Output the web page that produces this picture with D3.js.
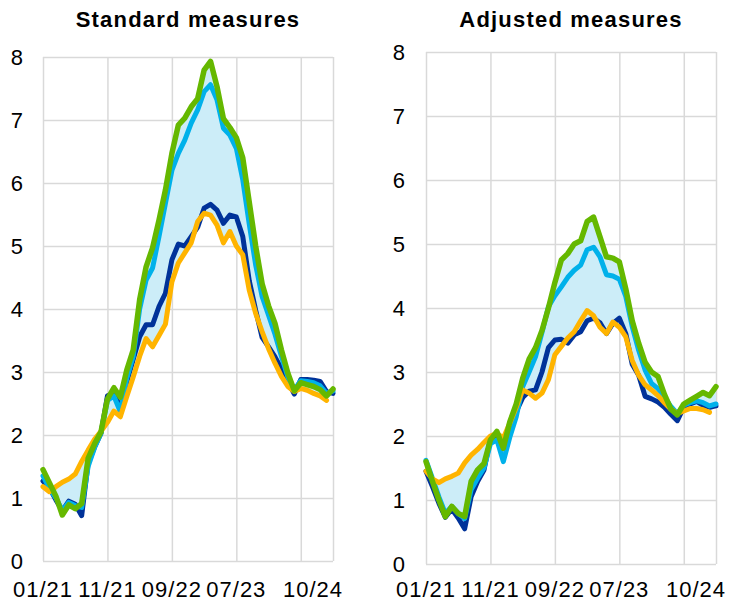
<!DOCTYPE html>
<html>
<head>
<meta charset="utf-8">
<script src="https://cdn.jsdelivr.net/npm/d3@7"></script>
<style>
  body { margin: 0; background: #fff; }
  text { font-family: "Liberation Sans", Arial, sans-serif; fill: #000; }
</style>
</head>
<body>
<svg id="chart" width="729" height="602"></svg>
<script>
// monthly observations, 01/21 .. 10/24 (index 0..45)
const yTicks = [0, 1, 2, 3, 4, 5, 6, 7, 8];
const gridIndex = [0, 10, 20, 30, 40, 45];
const tickIndex = [0, 10, 20, 30, 45];
const tickLabels = ["01/21", "11/21", "09/22", "07/23", "10/24"];

const stdDarkBlue = [1.27, 1.16, 0.97, 0.8, 0.95, 0.9, 0.72, 1.55, 1.81, 2.03, 2.62, 2.66, 2.42, 2.85, 3.2, 3.56, 3.75, 3.75, 4.04, 4.25, 4.78, 5.03, 5.0, 5.15, 5.3, 5.6, 5.66, 5.57, 5.36, 5.49, 5.46, 5.15, 4.45, 3.98, 3.55, 3.4, 3.24, 3.05, 2.85, 2.65, 2.88, 2.88, 2.87, 2.85, 2.69, 2.66];
const stdLightBlue = [1.35, 1.15, 1.0, 0.8, 0.93, 0.88, 0.85, 1.5, 1.8, 2.03, 2.55, 2.62, 2.37, 2.9, 3.25, 4.0, 4.46, 4.65, 5.15, 5.68, 6.2, 6.47, 6.68, 6.95, 7.16, 7.45, 7.56, 7.32, 6.87, 6.76, 6.55, 6.05, 5.35, 4.7, 4.2, 3.9, 3.6, 3.25, 2.92, 2.72, 2.86, 2.85, 2.83, 2.78, 2.66, 2.7];
const stdOrange = [1.18, 1.1, 1.18, 1.25, 1.3, 1.38, 1.58, 1.76, 1.93, 2.06, 2.2, 2.38, 2.29, 2.61, 2.92, 3.25, 3.53, 3.4, 3.58, 3.76, 4.43, 4.73, 4.89, 5.05, 5.39, 5.52, 5.49, 5.33, 5.05, 5.23, 5.0, 4.86, 4.3, 3.93, 3.64, 3.37, 3.14, 2.93, 2.77, 2.69, 2.74, 2.71, 2.66, 2.62, 2.55, null];
const stdGreen = [1.45, 1.24, 1.03, 0.73, 0.89, 0.83, 0.91, 1.63, 1.86, 2.05, 2.57, 2.75, 2.6, 3.03, 3.35, 4.15, 4.67, 4.97, 5.41, 5.89, 6.47, 6.92, 7.03, 7.21, 7.34, 7.79, 7.93, 7.53, 7.02, 6.88, 6.72, 6.4, 5.7, 5.0, 4.4, 4.05, 3.77, 3.35, 2.98, 2.7, 2.83, 2.8, 2.77, 2.72, 2.62, 2.73];

const adjDarkBlue = [1.45, 1.21, 0.95, 0.73, 0.86, 0.72, 0.55, 1.05, 1.29, 1.47, 1.96, 2.02, 1.8, 2.12, 2.38, 2.6, 2.7, 2.72, 3.0, 3.38, 3.5, 3.51, 3.45, 3.58, 3.63, 3.8, 3.84, 3.77, 3.6, 3.76, 3.84, 3.6, 3.12, 2.95, 2.62, 2.58, 2.53, 2.45, 2.34, 2.24, 2.45, 2.5, 2.54, 2.48, 2.45, 2.47];
const adjLightBlue = [1.62, 1.34, 1.05, 0.79, 0.9, 0.79, 0.71, 1.16, 1.34, 1.5, 1.88, 1.94, 1.6, 1.98, 2.3, 2.77, 3.0, 3.24, 3.62, 4.02, 4.19, 4.33, 4.48, 4.59, 4.67, 4.91, 4.95, 4.8, 4.52, 4.5, 4.45, 4.18, 3.71, 3.34, 3.03, 2.82, 2.74, 2.61, 2.46, 2.35, 2.48, 2.52, 2.55, 2.52, 2.47, 2.5];
const adjOrange = [1.45, 1.33, 1.27, 1.33, 1.37, 1.42, 1.58, 1.7, 1.79, 1.9, 2.0, 2.04, 1.97, 2.2, 2.45, 2.72, 2.67, 2.59, 2.67, 2.88, 3.27, 3.4, 3.53, 3.63, 3.8, 3.96, 3.88, 3.7, 3.6, 3.78, 3.7, 3.55, 3.18, 2.95, 2.8, 2.72, 2.63, 2.52, 2.42, 2.35, 2.39, 2.43, 2.43, 2.41, 2.37, null];
const adjGreen = [1.6, 1.29, 1.0, 0.74, 0.9, 0.79, 0.74, 1.29, 1.47, 1.57, 1.94, 2.07, 1.81, 2.22, 2.5, 2.9, 3.2, 3.38, 3.65, 4.0, 4.4, 4.75, 4.85, 5.0, 5.05, 5.35, 5.42, 5.11, 4.8, 4.78, 4.72, 4.3, 3.8, 3.45, 3.15, 3.0, 2.93, 2.65, 2.42, 2.33, 2.5, 2.56, 2.62, 2.68, 2.63, 2.77];

const colors = {
  darkBlue: "#003299",
  lightBlue: "#00b1ea",
  orange: "#ffb400",
  green: "#65b800",
  band: "#ccedf8",
  grid: "#d9d9d9"
};

const panels = [
  {
    title: "Standard measures",
    left: 43, right: 333, top: 57, bottom: 561, labelPad: 20, labelY: 597,
    series: [
      { values: stdDarkBlue, color: colors.darkBlue },
      { values: stdLightBlue, color: colors.lightBlue },
      { values: stdOrange, color: colors.orange },
      { values: stdGreen, color: colors.green }
    ]
  },
  {
    title: "Adjusted measures",
    left: 426, right: 716, top: 52, bottom: 564, labelPad: 21, labelY: 597,
    series: [
      { values: adjDarkBlue, color: colors.darkBlue },
      { values: adjLightBlue, color: colors.lightBlue },
      { values: adjOrange, color: colors.orange },
      { values: adjGreen, color: colors.green }
    ]
  }
];

function drawPanel(svg, p) {
  const x = d3.scaleLinear().domain([0, 45]).range([p.left, p.right]);
  const y = d3.scaleLinear().domain([0, 8]).range([p.bottom, p.top]);
  const g = svg.append("g");

  // horizontal grid + y labels
  g.append("g")
    .attr("transform", `translate(${p.left},0)`)
    .call(d3.axisLeft(y).tickValues(yTicks).tickSize(-(p.right - p.left)).tickPadding(p.labelPad))
    .call(a => a.select(".domain").remove())
    .call(a => a.selectAll("line").attr("stroke", colors.grid).attr("stroke-width", 1.5))
    .call(a => a.selectAll("text")
      .attr("fill", "#000")
      .style("font-size", "22px")
      .style("font-family", '"Liberation Sans", Arial, sans-serif'));

  // vertical grid
  g.append("g")
    .attr("transform", `translate(0,${p.bottom})`)
    .call(d3.axisBottom(x).tickValues(gridIndex).tickSize(-(p.bottom - p.top)).tickFormat(""))
    .call(a => a.select(".domain").remove())
    .call(a => a.selectAll("line").attr("stroke", colors.grid).attr("stroke-width", 1.5));

  // x labels
  g.selectAll(".xlabel")
    .data(tickIndex)
    .join("text")
    .attr("class", "xlabel")
    .attr("x", (d, i) => i === tickIndex.length - 1 ? x(d) + 10 : x(d))
    .attr("y", p.labelY)
    .attr("text-anchor", (d, i) => i === tickIndex.length - 1 ? "end" : "middle")
    .style("font-size", "22px")
    .style("letter-spacing", "1px")
    .text((d, i) => tickLabels[i]);

  // range band
  const n = p.series[0].values.length;
  const band = d3.range(n).map(i => {
    const vals = p.series.map(s => s.values[i]).filter(v => v != null);
    return { i, lo: d3.min(vals), hi: d3.max(vals) };
  });
  g.append("path")
    .datum(band)
    .attr("fill", colors.band)
    .attr("d", d3.area().x(d => x(d.i)).y0(d => y(d.lo)).y1(d => y(d.hi)));

  const line = d3.line()
    .defined(d => d != null)
    .x((d, i) => x(i))
    .y(d => y(d));

  p.series.forEach(s => {
    g.append("path")
      .datum(s.values)
      .attr("fill", "none")
      .attr("stroke", s.color)
      .attr("stroke-width", s.color === colors.green ? 5.5 : 5)
      .attr("stroke-linejoin", "round")
      .attr("stroke-linecap", "round")
      .attr("d", line);
  });

  g.append("text")
    .attr("x", (p.left + p.right) / 2)
    .attr("y", 27)
    .attr("text-anchor", "middle")
    .style("font-size", "22px")
    .style("font-weight", "bold")
    .style("letter-spacing", "1.2px")
    .text(p.title);
}

const svg = d3.select("#chart");
panels.forEach(p => drawPanel(svg, p));
</script>
</body>
</html>
